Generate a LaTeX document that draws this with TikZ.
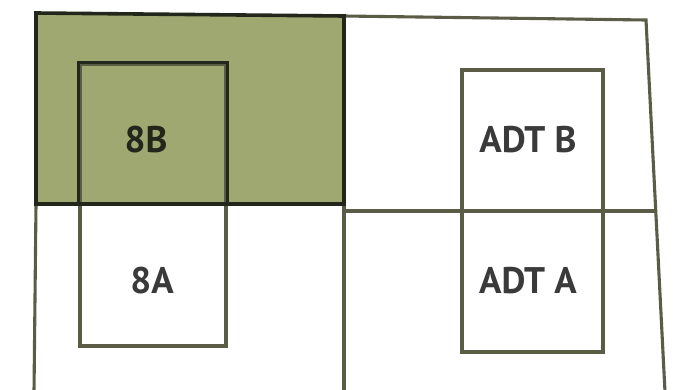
\documentclass[tikz,border=0pt]{standalone}
\usepackage{fontspec}
\setmainfont{PT Sans}
\definecolor{linecol}{HTML}{5A5C46}
\definecolor{darkline}{HTML}{23261A}
\definecolor{greenfill}{HTML}{9FA870}
\definecolor{textcol}{HTML}{3A3A3A}
\tikzset{
  plan/.style={draw=linecol, line width=3.1pt, line join=miter},
  boxst/.style={draw=linecol, line width=3.1pt, inner sep=0pt},
  lbl/.style={font=\fontsize{37}{42}\selectfont\bfseries, text=textcol, inner sep=0pt},
}
\begin{document}
\begin{tikzpicture}[x=1pt,y=-1pt]
\useasboundingbox (0,0) rectangle (700,389);
% outline coordinates
\coordinate (tl) at (36,13);
\coordinate (tm) at (344,16);
\coordinate (tr) at (646,20);
\coordinate (br) at (665,392);
\coordinate (bl) at (34,392);
\coordinate (gm) at (344,204);
\coordinate (gl) at (36,204);
\coordinate (bm) at (344,392);
\coordinate (rm) at (657,211);
\coordinate (mm) at (344,211);
% green region fill
\fill[greenfill] (tl) -- (tm) -- (gm) -- (gl) -- cycle;
% outer plan lines
\draw[plan] (tm) -- (tr) -- (br);
\draw[plan] (gl) -- (bl);
\draw[plan] (tm) -- (bm);
\draw[plan] (mm) -- (rm);
% boxes
\node[boxst, minimum width=146pt, minimum height=282pt] (box8) at (153,205) {};
\node[boxst, minimum width=141pt, minimum height=282pt] (boxadt) at (532.5,211) {};
% darker box part inside green area
\begin{scope}
\clip (tl) -- (tm) -- (gm) -- (gl) -- cycle;
\draw[draw=darkline, line width=3.1pt] (box8.north west) rectangle (box8.south east);
\end{scope}
% green region border
\draw[draw=darkline, line width=3.6pt, line join=miter] (tl) -- (tm) -- (gm) -- (gl) -- cycle;
% labels
\node[lbl, text=darkline] (l8b) at (146,140) {8B};
\node[lbl] (l8a) at (152,281) {8A};
\node[lbl] (ladtb) at (528,140) {ADT B};
\node[lbl] (ladta) at (528,281) {ADT A};
\end{tikzpicture}
\end{document}
